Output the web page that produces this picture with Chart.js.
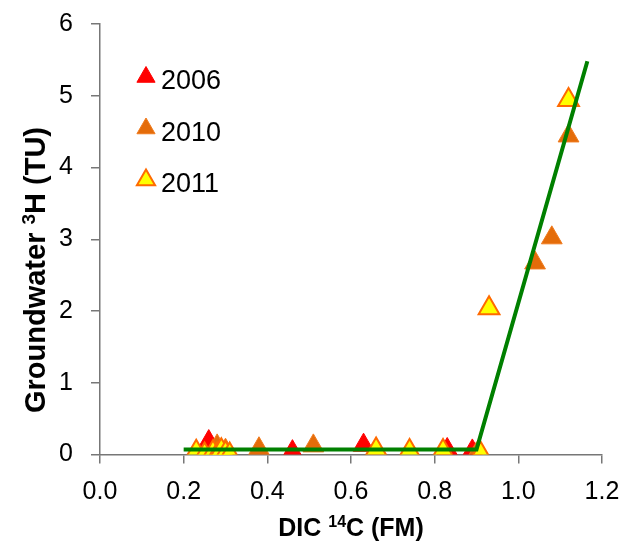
<!DOCTYPE html>
<html>
<head>
<meta charset="utf-8">
<script src="https://cdn.jsdelivr.net/npm/chart.js@4"></script>
<style>
html, body { margin: 0; padding: 0; background: #fff; }
</style>
</head>
<body>
<canvas id="chart" width="624" height="545"></canvas>
<script>
// values
const x2006 = [0.26, 0.46, 0.63, 0.83, 0.89];
const y2006 = [0.18, 0.04, 0.13, 0.07, 0.05];

const x2010 = [0.28, 0.30, 0.38, 0.51, 0.90, 1.04, 1.08, 1.12];
const y2010 = [0.12, 0.06, 0.08, 0.12, 0.01, 2.67, 3.02, 4.44];

const x2011 = [0.23, 0.25, 0.27, 0.28, 0.29, 0.30, 0.31, 0.66, 0.74, 0.82, 0.91, 0.93, 1.12];
const y2011 = [0.04, 0.00, 0.03, 0.00, 0.06, 0.02, 0.00, 0.07, 0.05, 0.05, 0.01, 2.04, 4.94];

const xTrend = [0.20, 0.90, 1.165];
const yTrend = [0.07, 0.07, 5.48];

const xTicks = [0, 0.2, 0.4, 0.6, 0.8, 1.0, 1.2];
const yTicks = [0, 1, 2, 3, 4, 5, 6];

// axis titles as [text, superscript?] pieces
const xTitle = [['DIC ', false], ['14', true], ['C (FM)', false]];
const yTitle = [['Groundwater ', false], ['3', true], ['H (TU)', false]];

const toPoints = (xs, ys) => xs.map((x, i) => ({ x: x, y: ys[i] }));

const FONT = 'Arial, "Liberation Sans", sans-serif';
const AXIS = '#777777';

// draw a title with smaller raised superscripts, centred on (0,0)
function drawTitle(ctx, parts, size) {
    const supSize = Math.round(size * 0.64);
    const fontFor = sup => 'bold ' + (sup ? supSize : size) + 'px ' + FONT;
    let total = 0;
    parts.forEach(p => { ctx.font = fontFor(p[1]); total += ctx.measureText(p[0]).width; });
    let x = -total / 2;
    ctx.textAlign = 'left';
    ctx.textBaseline = 'alphabetic';
    ctx.fillStyle = '#000';
    parts.forEach(p => {
        ctx.font = fontFor(p[1]);
        ctx.fillText(p[0], x, size * 0.36 - (p[1] ? size * 0.36 : 0));
        x += ctx.measureText(p[0]).width;
    });
}

const titlesAndLegend = {
    id: 'titlesAndLegend',
    afterDraw(chart) {
        const ctx = chart.ctx;
        const area = chart.chartArea;

        ctx.save();
        ctx.translate((area.left + area.right) / 2, 527);
        drawTitle(ctx, xTitle, 25);
        ctx.restore();

        ctx.save();
        ctx.translate(35, 270);
        ctx.rotate(-Math.PI / 2);
        drawTitle(ctx, yTitle, 29);
        ctx.restore();

        // legend inside the plot, top-left
        const items = chart.data.datasets.filter(d => d.label);
        const left = area.left + 46;
        let rowY = 80;
        ctx.save();
        items.forEach(d => {
            const r = 10.5;
            const cy = rowY - 3;
            ctx.beginPath();
            ctx.moveTo(left, cy - r);
            ctx.lineTo(left + r * 0.866, cy + r / 2);
            ctx.lineTo(left - r * 0.866, cy + r / 2);
            ctx.closePath();
            ctx.fillStyle = d.backgroundColor;
            ctx.fill();
            ctx.lineWidth = d.borderWidth;
            ctx.strokeStyle = d.borderColor;
            ctx.stroke();
            ctx.fillStyle = '#000';
            ctx.font = '27px ' + FONT;
            ctx.textBaseline = 'alphabetic';
            ctx.textAlign = 'left';
            ctx.fillText(d.label, left + 15, rowY + 9);
            rowY += 51.5;
        });
        ctx.restore();
    }
};

new Chart(document.getElementById('chart'), {
    type: 'scatter',
    data: {
        datasets: [
            {
                label: '',
                data: toPoints(xTrend, yTrend),
                showLine: true,
                borderColor: '#008000',
                borderWidth: 4,
                pointRadius: 0,
                order: 0
            },
            {
                label: '2006',
                data: toPoints(x2006, y2006),
                pointStyle: 'triangle',
                pointRadius: 12,
                backgroundColor: '#FF0000',
                borderColor: '#FF0000',
                borderWidth: 1,
                order: 3
            },
            {
                label: '2010',
                data: toPoints(x2010, y2010),
                pointStyle: 'triangle',
                pointRadius: 12,
                backgroundColor: '#E46C0A',
                borderColor: '#F07B1E',
                borderWidth: 1,
                order: 2
            },
            {
                label: '2011',
                data: toPoints(x2011, y2011),
                pointStyle: 'triangle',
                pointRadius: 12,
                backgroundColor: '#FFFF00',
                borderColor: '#FF6A00',
                borderWidth: 2,
                order: 1
            }
        ]
    },
    options: {
        responsive: false,
        animation: false,
        layout: { padding: { top: 24, right: 22, left: 0, bottom: 0 } },
        plugins: {
            legend: { display: false },
            tooltip: { enabled: false }
        },
        scales: {
            x: {
                type: 'linear',
                min: 0,
                max: 1.2,
                afterBuildTicks: axis => { axis.ticks = xTicks.map(v => ({ value: v })); },
                afterFit: axis => {
                    axis.height = 90.5;
                    axis.paddingLeft = 0;
                    axis.paddingRight = 0;
                },
                ticks: {
                    color: '#000',
                    font: { size: 25, family: FONT },
                    padding: 14,
                    callback: v => v.toFixed(1)
                },
                grid: { drawOnChartArea: false, drawTicks: true, tickLength: 9, color: AXIS, lineWidth: 1.5 },
                border: { display: true, color: AXIS, width: 1.5 }
            },
            y: {
                type: 'linear',
                min: 0,
                max: 6,
                afterBuildTicks: axis => { axis.ticks = yTicks.map(v => ({ value: v })); },
                afterFit: axis => {
                    axis.width = 100;
                    axis.paddingTop = 0;
                    axis.paddingBottom = 0;
                },
                ticks: {
                    color: '#000',
                    font: { size: 25, family: FONT },
                    padding: 18
                },
                grid: { drawOnChartArea: false, drawTicks: true, tickLength: 9, color: AXIS, lineWidth: 1.5 },
                border: { display: true, color: AXIS, width: 1.5 }
            }
        }
    },
    plugins: [titlesAndLegend]
});
</script>
</body>
</html>
